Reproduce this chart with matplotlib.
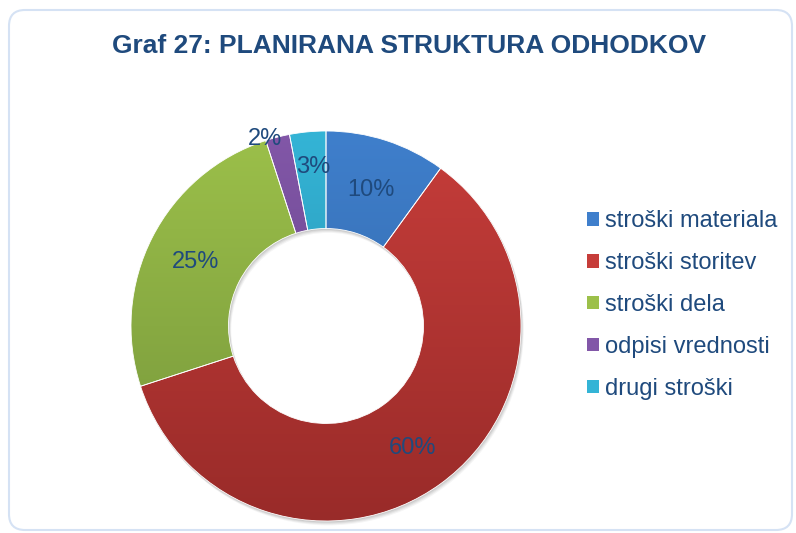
import numpy as np
import matplotlib
matplotlib.use("Agg")
import matplotlib.pyplot as plt
from matplotlib.patches import FancyBboxPatch, Wedge
from matplotlib.colors import LinearSegmentedColormap

title = "Graf 27: PLANIRANA STRUKTURA ODHODKOV"
categories = ["stroški materiala", "stroški storitev", "stroški dela",
              "odpisi vrednosti", "drugi stroški"]
values = [10, 60, 25, 2, 3]
top_colors = ["#3F7FCC", "#C63D3A", "#9CC04A", "#8257A8", "#34B4D6"]
bottom_colors = ["#2F629F", "#992B29", "#74943A", "#5E3E80", "#2589A6"]
# label placement (radius, angular shift in degrees)
label_radius = [0.75, 0.755, 0.75, 1.02, 0.83]
label_shift = [0, 0, 0, 3.5, -1.0]

text_color = "#1F4A7D"
plt.rcParams['font.family'] = ['Liberation Sans', 'DejaVu Sans']

W, H = 796, 533
fig = plt.figure(figsize=(W / 100, H / 100), dpi=100)

# rounded border
bg = fig.add_axes([0, 0, 1, 1])
bg.set_xlim(0, W)
bg.set_ylim(H, 0)
bg.axis('off')
bg.add_patch(FancyBboxPatch((9, 10), 783, 520,
                            boxstyle="round,pad=0,rounding_size=16",
                            fc="white", ec="#D5E2F4", lw=1.5))

fig.text(409 / W, 1 - 46 / H, title, ha='center', va='center',
         fontsize=19, fontweight='bold', color=text_color)

# donut axes: center (326, 326), radius 195 px
cx, cy, R = 326, 326, 195
half = 200
ax = fig.add_axes([(cx - half) / W, (H - cy - half) / H, 2 * half / W, 2 * half / H])

ring_w = 0.5
wedges, _ = ax.pie(values, startangle=90, counterclock=False, radius=1.0,
                   colors=top_colors,
                   wedgeprops=dict(width=ring_w, edgecolor='white', linewidth=0.6))
lim = half / R

# soft shadow under the ring
px = 1.0 / R
for k, a in zip(range(4, 0, -1), [0.04, 0.05, 0.06, 0.07]):
    sh = Wedge((k * 0.6 * px, -k * px), 1.0 + 0.4 * px, 0, 360, width=ring_w + 0.8 * px,
               fc='#000000', ec='none', alpha=a, zorder=0)
    ax.add_patch(sh)

# vertical gradient fill for each slice
grad = np.linspace(0, 1, 256).reshape(-1, 1)
for w, c1, c2 in zip(wedges, top_colors, bottom_colors):
    cmap = LinearSegmentedColormap.from_list("g", [c1, c2])
    im = ax.imshow(grad, cmap=cmap, extent=[-1, 1, -1, 1], origin='upper',
                   aspect='auto', zorder=w.get_zorder() + 0.1)
    im.set_clip_path(w)
    w.set_facecolor('none')
    w.set_zorder(w.get_zorder() + 0.2)
ax.set_xlim(-lim, lim)
ax.set_ylim(-lim, lim)
ax.set_aspect('equal')
ax.axis('off')

# percentage labels
fs = 17
total = sum(values)
cum = 0
for v, r, s in zip(values, label_radius, label_shift):
    mid = 90 - (cum + v / 2) / total * 360 + s
    cum += v
    x = r * np.cos(np.radians(mid))
    y = r * np.sin(np.radians(mid))
    ax.annotate(f"{v / total * 100:.0f}%", xy=(x, y), xytext=(0, -0.729 * fs / 2),
                textcoords='offset points', ha='center', va='baseline',
                fontsize=fs, color=text_color, zorder=10)

# legend
handles = [plt.Rectangle((0, 0), 1, 1, fc=c) for c in top_colors]
fig.legend(handles, categories, loc='center left',
           bbox_to_anchor=(587 / W, 1 - 305 / H), frameon=False,
           fontsize=17, labelcolor=text_color, handlelength=0.5, handleheight=0.5,
           handletextpad=0.25, labelspacing=0.84, borderaxespad=0, borderpad=0)

fig.savefig("out.png", dpi=100)
